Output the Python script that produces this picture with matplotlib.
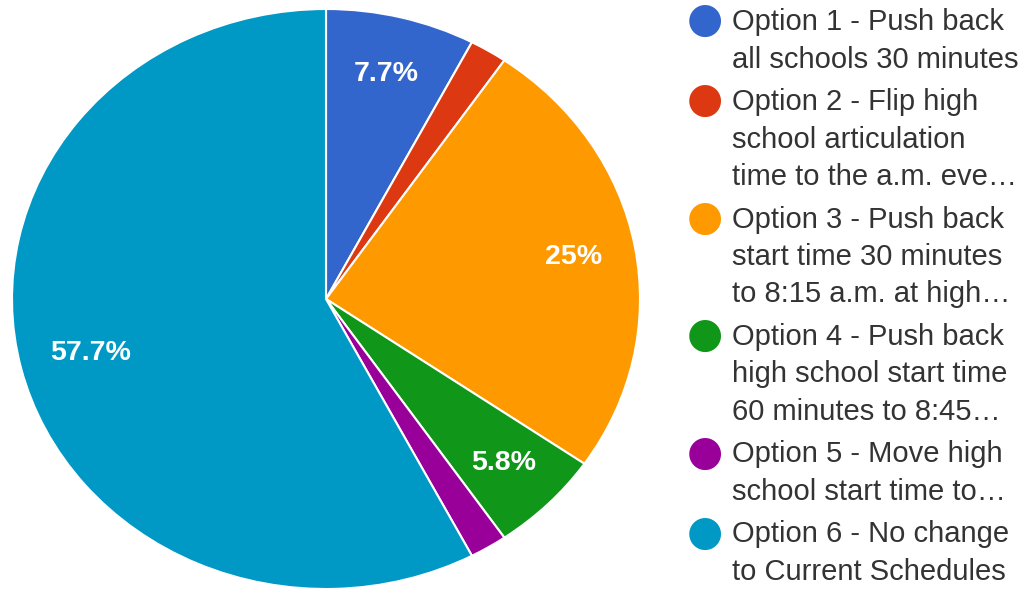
import matplotlib.pyplot as plt

# datos del grafico
opciones = [
    'Option 1 - Push back\nall schools 30 minutes',
    'Option 2 - Flip high\nschool articulation\ntime to the a.m. eve\u2026',
    'Option 3 - Push back\nstart time 30 minutes\nto 8:15 a.m. at high\u2026',
    'Option 4 - Push back\nhigh school start time\n60 minutes to 8:45\u2026',
    'Option 5 - Move high\nschool start time to\u2026',
    'Option 6 - No change\nto Current Schedules',
]
votos = [4, 1, 13, 3, 1, 30]
colores = ['#3366CC', '#DC3912', '#FF9900', '#109618', '#990099', '#0099C6']

plt.rcParams['font.family'] = ['Liberation Sans', 'DejaVu Sans']

W, H = 1029, 589
fig = plt.figure(figsize=(W / 100, H / 100), dpi=100)
# el pastel esta un poco estirado en horizontal
ax = fig.add_axes([12 / W, 0 / H, 628 / W, 580 / H])


def etiqueta(p):
    return f'{p:.1f}%'.replace('.0%', '%') if p > 4 else ''


wedges, textos, pcts = ax.pie(votos, colors=colores, startangle=90, counterclock=False,
                              autopct=etiqueta, pctdistance=0.8,
                              wedgeprops=dict(edgecolor='white', linewidth=1.5))
for t in pcts:
    t.set_color('white')
    t.set_fontsize(20.5)
    t.set_fontweight('bold')
# la etiqueta grande va un poco mas adentro
px, py = pcts[-1].get_position()
pcts[-1].set_position((px * 0.965, py * 0.965))
ax.set_aspect('auto')
ax.set_xlim(-1, 1)
ax.set_ylim(-1, 1)

# leyenda hecha a mano
y = 22
for texto, c in zip(opciones, colores):
    fig.text(705 / W, 1 - (y - 2) / H, '\u25cf', color=c, fontsize=30,
             ha='center', va='center', family='DejaVu Sans')
    lineas = texto.split('\n')
    for i, l in enumerate(lineas):
        fig.text(732 / W, 1 - (y + i * 37.5) / H, l, color='#333333', fontsize=21,
                 ha='left', va='center')
    y += len(lineas) * 37.5 + 5

fig.savefig('out.png', dpi=100)
